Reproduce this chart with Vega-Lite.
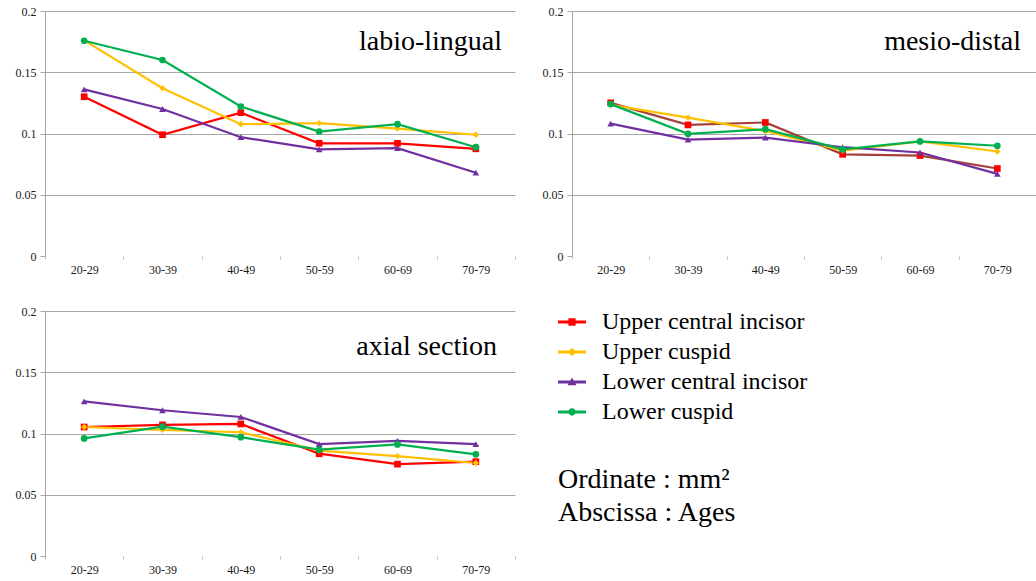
{
  "$schema": "https://vega.github.io/schema/vega-lite/v6.json",
  "background": "white",
  "padding": {"left": 15, "top": 5, "right": 0, "bottom": 0},
  "spacing": 30,
  "data": {"values": [
    {"panel": "labio-lingual", "series": "Upper central incisor", "age": "20-29", "value": 0.130},
    {"panel": "labio-lingual", "series": "Upper central incisor", "age": "30-39", "value": 0.099},
    {"panel": "labio-lingual", "series": "Upper central incisor", "age": "40-49", "value": 0.117},
    {"panel": "labio-lingual", "series": "Upper central incisor", "age": "50-59", "value": 0.092},
    {"panel": "labio-lingual", "series": "Upper central incisor", "age": "60-69", "value": 0.092},
    {"panel": "labio-lingual", "series": "Upper central incisor", "age": "70-79", "value": 0.0875},
    {"panel": "labio-lingual", "series": "Upper cuspid", "age": "20-29", "value": 0.176},
    {"panel": "labio-lingual", "series": "Upper cuspid", "age": "30-39", "value": 0.137},
    {"panel": "labio-lingual", "series": "Upper cuspid", "age": "40-49", "value": 0.1076},
    {"panel": "labio-lingual", "series": "Upper cuspid", "age": "50-59", "value": 0.1084},
    {"panel": "labio-lingual", "series": "Upper cuspid", "age": "60-69", "value": 0.104},
    {"panel": "labio-lingual", "series": "Upper cuspid", "age": "70-79", "value": 0.099},
    {"panel": "labio-lingual", "series": "Lower central incisor", "age": "20-29", "value": 0.136},
    {"panel": "labio-lingual", "series": "Lower central incisor", "age": "30-39", "value": 0.120},
    {"panel": "labio-lingual", "series": "Lower central incisor", "age": "40-49", "value": 0.097},
    {"panel": "labio-lingual", "series": "Lower central incisor", "age": "50-59", "value": 0.087},
    {"panel": "labio-lingual", "series": "Lower central incisor", "age": "60-69", "value": 0.088},
    {"panel": "labio-lingual", "series": "Lower central incisor", "age": "70-79", "value": 0.068},
    {"panel": "labio-lingual", "series": "Lower cuspid", "age": "20-29", "value": 0.1757},
    {"panel": "labio-lingual", "series": "Lower cuspid", "age": "30-39", "value": 0.160},
    {"panel": "labio-lingual", "series": "Lower cuspid", "age": "40-49", "value": 0.122},
    {"panel": "labio-lingual", "series": "Lower cuspid", "age": "50-59", "value": 0.1016},
    {"panel": "labio-lingual", "series": "Lower cuspid", "age": "60-69", "value": 0.1076},
    {"panel": "labio-lingual", "series": "Lower cuspid", "age": "70-79", "value": 0.0888},
    {"panel": "mesio-distal", "series": "Upper central incisor", "age": "20-29", "value": 0.125},
    {"panel": "mesio-distal", "series": "Upper central incisor", "age": "30-39", "value": 0.107},
    {"panel": "mesio-distal", "series": "Upper central incisor", "age": "40-49", "value": 0.109},
    {"panel": "mesio-distal", "series": "Upper central incisor", "age": "50-59", "value": 0.083},
    {"panel": "mesio-distal", "series": "Upper central incisor", "age": "60-69", "value": 0.082},
    {"panel": "mesio-distal", "series": "Upper central incisor", "age": "70-79", "value": 0.0714},
    {"panel": "mesio-distal", "series": "Upper cuspid", "age": "20-29", "value": 0.1234},
    {"panel": "mesio-distal", "series": "Upper cuspid", "age": "30-39", "value": 0.113},
    {"panel": "mesio-distal", "series": "Upper cuspid", "age": "40-49", "value": 0.102},
    {"panel": "mesio-distal", "series": "Upper cuspid", "age": "50-59", "value": 0.086},
    {"panel": "mesio-distal", "series": "Upper cuspid", "age": "60-69", "value": 0.0935},
    {"panel": "mesio-distal", "series": "Upper cuspid", "age": "70-79", "value": 0.0853},
    {"panel": "mesio-distal", "series": "Lower central incisor", "age": "20-29", "value": 0.108},
    {"panel": "mesio-distal", "series": "Lower central incisor", "age": "30-39", "value": 0.095},
    {"panel": "mesio-distal", "series": "Lower central incisor", "age": "40-49", "value": 0.0967},
    {"panel": "mesio-distal", "series": "Lower central incisor", "age": "50-59", "value": 0.0888},
    {"panel": "mesio-distal", "series": "Lower central incisor", "age": "60-69", "value": 0.0845},
    {"panel": "mesio-distal", "series": "Lower central incisor", "age": "70-79", "value": 0.067},
    {"panel": "mesio-distal", "series": "Lower cuspid", "age": "20-29", "value": 0.124},
    {"panel": "mesio-distal", "series": "Lower cuspid", "age": "30-39", "value": 0.0997},
    {"panel": "mesio-distal", "series": "Lower cuspid", "age": "40-49", "value": 0.1035},
    {"panel": "mesio-distal", "series": "Lower cuspid", "age": "50-59", "value": 0.087},
    {"panel": "mesio-distal", "series": "Lower cuspid", "age": "60-69", "value": 0.0935},
    {"panel": "mesio-distal", "series": "Lower cuspid", "age": "70-79", "value": 0.090},
    {"panel": "axial section", "series": "Upper central incisor", "age": "20-29", "value": 0.1053},
    {"panel": "axial section", "series": "Upper central incisor", "age": "30-39", "value": 0.107},
    {"panel": "axial section", "series": "Upper central incisor", "age": "40-49", "value": 0.1078},
    {"panel": "axial section", "series": "Upper central incisor", "age": "50-59", "value": 0.0835},
    {"panel": "axial section", "series": "Upper central incisor", "age": "60-69", "value": 0.075},
    {"panel": "axial section", "series": "Upper central incisor", "age": "70-79", "value": 0.077},
    {"panel": "axial section", "series": "Upper cuspid", "age": "20-29", "value": 0.1053},
    {"panel": "axial section", "series": "Upper cuspid", "age": "30-39", "value": 0.103},
    {"panel": "axial section", "series": "Upper cuspid", "age": "40-49", "value": 0.101},
    {"panel": "axial section", "series": "Upper cuspid", "age": "50-59", "value": 0.086},
    {"panel": "axial section", "series": "Upper cuspid", "age": "60-69", "value": 0.0816},
    {"panel": "axial section", "series": "Upper cuspid", "age": "70-79", "value": 0.0759},
    {"panel": "axial section", "series": "Lower central incisor", "age": "20-29", "value": 0.1263},
    {"panel": "axial section", "series": "Lower central incisor", "age": "30-39", "value": 0.119},
    {"panel": "axial section", "series": "Lower central incisor", "age": "40-49", "value": 0.1135},
    {"panel": "axial section", "series": "Lower central incisor", "age": "50-59", "value": 0.0914},
    {"panel": "axial section", "series": "Lower central incisor", "age": "60-69", "value": 0.094},
    {"panel": "axial section", "series": "Lower central incisor", "age": "70-79", "value": 0.0914},
    {"panel": "axial section", "series": "Lower cuspid", "age": "20-29", "value": 0.096},
    {"panel": "axial section", "series": "Lower cuspid", "age": "30-39", "value": 0.1056},
    {"panel": "axial section", "series": "Lower cuspid", "age": "40-49", "value": 0.097},
    {"panel": "axial section", "series": "Lower cuspid", "age": "50-59", "value": 0.0868},
    {"panel": "axial section", "series": "Lower cuspid", "age": "60-69", "value": 0.0911},
    {"panel": "axial section", "series": "Lower cuspid", "age": "70-79", "value": 0.083}
  ]},
  "config": {
    "font": "Liberation Serif",
    "view": {"stroke": null},
    "axis": {"labelFont": "Liberation Serif"},
    "legend": {"labelFont": "Liberation Serif", "titleFont": "Liberation Serif"},
    "axisX": {"domain": false, "tickColor": "#bfbfbf", "tickSize": 3, "tickBand": "extent", "labelFontSize": 12, "labelColor": "#1a1a1a", "labelPadding": 5, "labelAngle": 0, "grid": false},
    "axisY": {"domain": true, "domainColor": "#a6a6a6", "tickColor": "#a6a6a6", "tickSize": 5, "labelFontSize": 12, "labelColor": "#1a1a1a", "labelPadding": 4, "grid": true, "gridColor": "#a6a6a6"}
  },
  "vconcat": [
    {
      "hconcat": [
        {
          "width": 470, "height": 245,
          "title": {"text": "labio-lingual", "anchor": "end", "frame": "group", "orient": "none", "dx": 457, "dy": 39, "fontSize": 28, "font": "Liberation Serif", "fontWeight": "normal", "color": "#000000", "baseline": "alphabetic"},
          "transform": [{"filter": "datum.panel === 'labio-lingual'"}],
          "encoding": {
            "x": {"field": "age", "type": "ordinal", "sort": ["20-29", "30-39", "40-49", "50-59", "60-69", "70-79"], "scale": {"type": "band", "paddingInner": 0, "paddingOuter": 0}, "title": null},
            "y": {"field": "value", "type": "quantitative", "scale": {"domain": [0, 0.2]}, "title": null, "axis": {"values": [0, 0.05, 0.1, 0.15, 0.2], "format": "~g", "gridOpacity": {"condition": {"test": "datum.value === 0", "value": 0}, "value": 1}}},
            "color": {"field": "series", "type": "nominal", "scale": {"domain": ["Upper central incisor", "Upper cuspid", "Lower central incisor", "Lower cuspid"], "range": ["#ff0000", "#ffc000", "#7030a0", "#00b050"]},
              "legend": {"orient": "none", "legendX": 513, "legendY": 297, "title": ["Ordinate : mm²", "Abscissa : Ages"], "titleOrient": "bottom", "titleFont": "Liberation Serif", "titleFontSize": 28, "titleFontWeight": "normal", "titleColor": "#000000", "titleLineHeight": 33, "titlePadding": 42, "titleAnchor": "start", "titleAlign": "left", "labelFont": "Liberation Serif", "labelFontSize": 24, "labelColor": "#000000", "labelOffset": 16, "labelLimit": 400, "symbolSize": 784, "symbolStrokeWidth": 0, "rowPadding": 4,
                "encode": {"symbols": {"update": {
                  "shape": {"signal": "datum.value === 'Upper central incisor' ? 'M-1,-0.1H1V0.1H-1Z M-0.26,-0.26H0.26V0.26H-0.26Z' : datum.value === 'Upper cuspid' ? 'M-1,-0.1H1V0.1H-1Z M0,-0.3L0.3,0L0,0.3L-0.3,0Z' : datum.value === 'Lower central incisor' ? 'M-1,-0.1H1V0.1H-1Z M0,-0.32L0.32,0.24H-0.32Z' : 'M-1,-0.1H1V0.1H-1Z M-0.26,0A0.26,0.26,0,1,1,0.26,0A0.26,0.26,0,1,1,-0.26,0Z'"},
                  "fill": {"signal": "datum.value === 'Upper central incisor' ? '#ff0000' : datum.value === 'Upper cuspid' ? '#ffc000' : datum.value === 'Lower central incisor' ? '#7030a0' : '#00b050'"},
                  "opacity": {"value": 1}
                }}}}}
          },
          "layer": [
            {"mark": {"type": "line", "strokeWidth": 2.2}},
            {"transform": [{"filter": "datum.series === 'Upper central incisor'"}], "mark": {"type": "point", "shape": "square", "filled": true, "size": 45, "opacity": 1}},
            {"transform": [{"filter": "datum.series === 'Upper cuspid'"}], "mark": {"type": "point", "shape": "diamond", "filled": true, "size": 40, "opacity": 1}},
            {"transform": [{"filter": "datum.series === 'Lower central incisor'"}], "mark": {"type": "point", "shape": "triangle-up", "filled": true, "size": 45, "opacity": 1}},
            {"transform": [{"filter": "datum.series === 'Lower cuspid'"}], "mark": {"type": "point", "shape": "circle", "filled": true, "size": 45, "opacity": 1}}
          ]
        },
        {
          "width": 464, "height": 245,
          "title": {"text": "mesio-distal", "anchor": "end", "frame": "group", "orient": "none", "dx": 449, "dy": 39, "fontSize": 28, "font": "Liberation Serif", "fontWeight": "normal", "color": "#000000", "baseline": "alphabetic"},
          "transform": [{"filter": "datum.panel === 'mesio-distal'"}],
          "encoding": {
            "x": {"field": "age", "type": "ordinal", "sort": ["20-29", "30-39", "40-49", "50-59", "60-69", "70-79"], "scale": {"type": "band", "paddingInner": 0, "paddingOuter": 0}, "title": null},
            "y": {"field": "value", "type": "quantitative", "scale": {"domain": [0, 0.2]}, "title": null, "axis": {"values": [0, 0.05, 0.1, 0.15, 0.2], "format": "~g", "gridOpacity": {"condition": {"test": "datum.value === 0", "value": 0}, "value": 1}}},
            "color": {"field": "series", "type": "nominal", "scale": {"domain": ["Upper central incisor", "Upper cuspid", "Lower central incisor", "Lower cuspid"], "range": ["#ff0000", "#ffc000", "#7030a0", "#00b050"]}}
          },
          "layer": [
            {"mark": {"type": "line", "strokeWidth": 2.2}, "encoding": {"color": {"condition": {"test": "datum.series === 'Upper central incisor'", "value": "#a5403c"}, "field": "series", "type": "nominal", "scale": {"domain": ["Upper central incisor", "Upper cuspid", "Lower central incisor", "Lower cuspid"], "range": ["#ff0000", "#ffc000", "#7030a0", "#00b050"]}}}},
            {"transform": [{"filter": "datum.series === 'Upper central incisor'"}], "mark": {"type": "point", "shape": "square", "filled": true, "size": 45, "opacity": 1}},
            {"transform": [{"filter": "datum.series === 'Upper cuspid'"}], "mark": {"type": "point", "shape": "diamond", "filled": true, "size": 40, "opacity": 1}},
            {"transform": [{"filter": "datum.series === 'Lower central incisor'"}], "mark": {"type": "point", "shape": "triangle-up", "filled": true, "size": 45, "opacity": 1}},
            {"transform": [{"filter": "datum.series === 'Lower cuspid'"}], "mark": {"type": "point", "shape": "circle", "filled": true, "size": 45, "opacity": 1}}
          ]
        }
      ],
      "spacing": 26
    },
    {
      "width": 470, "height": 245,
      "title": {"text": "axial section", "anchor": "end", "frame": "group", "orient": "none", "dx": 452, "dy": 44, "fontSize": 28, "font": "Liberation Serif", "fontWeight": "normal", "color": "#000000", "baseline": "alphabetic"},
      "transform": [{"filter": "datum.panel === 'axial section'"}],
      "encoding": {
        "x": {"field": "age", "type": "ordinal", "sort": ["20-29", "30-39", "40-49", "50-59", "60-69", "70-79"], "scale": {"type": "band", "paddingInner": 0, "paddingOuter": 0}, "title": null},
        "y": {"field": "value", "type": "quantitative", "scale": {"domain": [0, 0.2]}, "title": null, "axis": {"values": [0, 0.05, 0.1, 0.15, 0.2], "format": "~g", "gridOpacity": {"condition": {"test": "datum.value === 0", "value": 0}, "value": 1}}},
        "color": {"field": "series", "type": "nominal", "scale": {"domain": ["Upper central incisor", "Upper cuspid", "Lower central incisor", "Lower cuspid"], "range": ["#ff0000", "#ffc000", "#7030a0", "#00b050"]}}
      },
      "layer": [
        {"mark": {"type": "line", "strokeWidth": 2.2}},
        {"transform": [{"filter": "datum.series === 'Upper central incisor'"}], "mark": {"type": "point", "shape": "square", "filled": true, "size": 45, "opacity": 1}},
        {"transform": [{"filter": "datum.series === 'Upper cuspid'"}], "mark": {"type": "point", "shape": "diamond", "filled": true, "size": 40, "opacity": 1}},
        {"transform": [{"filter": "datum.series === 'Lower central incisor'"}], "mark": {"type": "point", "shape": "triangle-up", "filled": true, "size": 45, "opacity": 1}},
        {"transform": [{"filter": "datum.series === 'Lower cuspid'"}], "mark": {"type": "point", "shape": "circle", "filled": true, "size": 45, "opacity": 1}}
      ]
    }
  ]
}
